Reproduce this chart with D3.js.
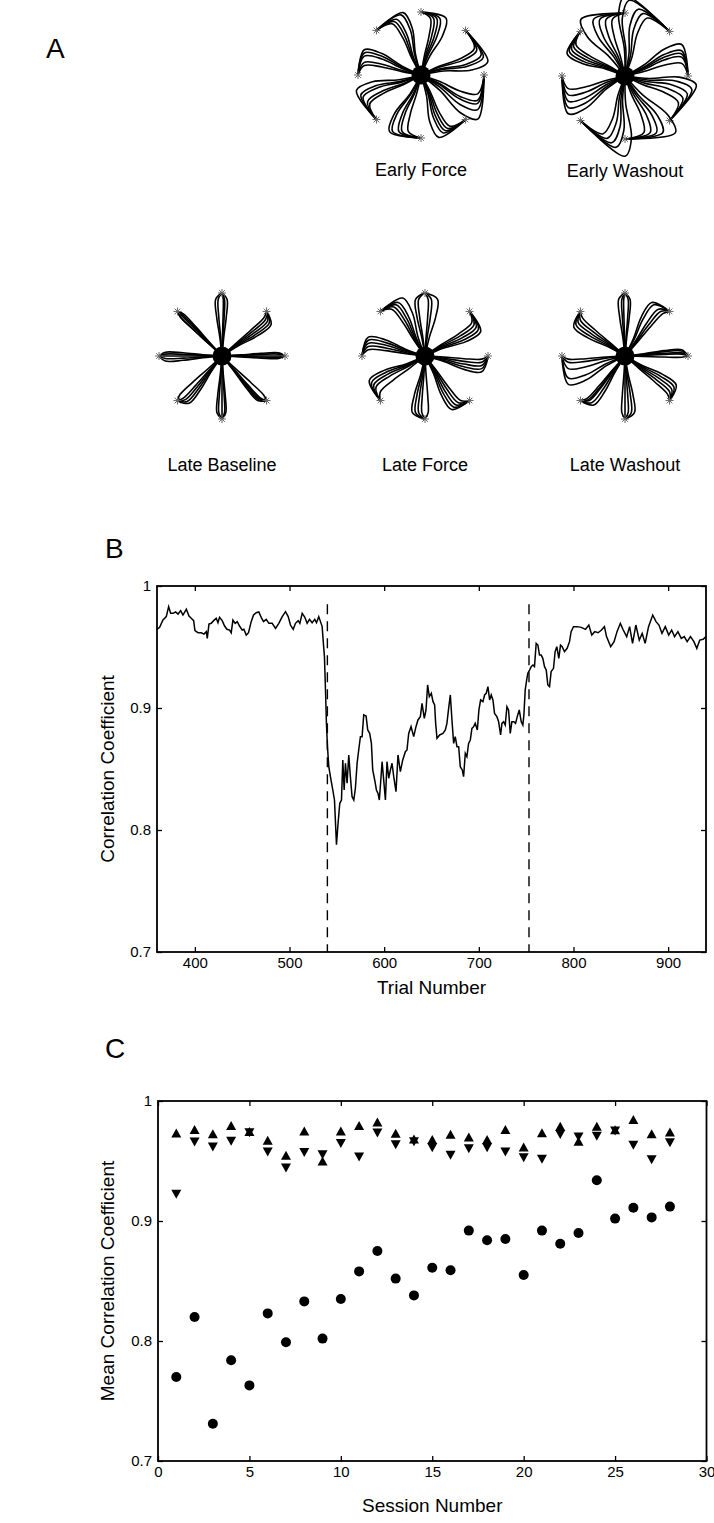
<!DOCTYPE html>
<html>
<head>
<meta charset="utf-8">
<script src="https://cdn.jsdelivr.net/npm/d3@7"></script>
<style>
body { margin:0; background:#fff; }
text { font-family:"Liberation Sans", Arial, Helvetica, sans-serif; fill:#000; }
</style>
</head>
<body>
<svg id="fig" width="714" height="1523"></svg>
<script>

// ---------- panel A : hand paths, lateral deviation of each trace (fraction of target distance)
// directions: up, up-right, right, down-right, down, down-left, left, up-left
var targetAngles = [90, 45, 0, -45, -90, -135, 180, 135];
var earlyForceDev = [[0.15,0.25,0.3,0.4,0.2],[0.35,0.5,0.45,0.6,0.3],[0.4,0.55,0.3,0.7,0.45],[0.3,0.4,0.5,0.25,0.35],
                     [0.35,0.45,0.2,0.3,0.5],[0.3,0.45,0.25,0.4,0.55],[0.2,0.3,0.4,0.15,0.35],[0.25,0.35,0.45,0.3,0.5]];
var earlyWashoutDev = [[-0.3,-0.5,-0.7,-0.4,-0.2],[-0.5,-0.8,-0.6,-0.4,-0.9],[-0.3,-0.4,-0.2,-0.5,-0.35],[-0.4,-0.6,-0.3,-0.7,-0.5],
                       [-0.4,-0.6,-0.8,-0.3,-0.5],[-0.5,-0.7,-0.4,-0.9,-0.6],[-0.3,-0.5,-0.6,-0.4,-0.2],[-0.2,-0.3,-0.4,-0.25,-0.35]];
var lateBaselineDev = [[0.04,-0.06,0.08,-0.1,0.02],[0.08,0.16,0.12,0.2,0.04],[0.02,-0.03,0.04,0,-0.05],[0.04,0.08,-0.03,0.06,0.1],
                       [-0.04,0.05,0.08,-0.06,0],[-0.08,-0.16,0.04,-0.12,-0.04],[0.03,-0.04,0.06,-0.08,0],[0.02,-0.03,0.04,0,-0.03]];
var lateForceDev = [[0.1,-0.15,0.2,0.05,-0.1],[0.25,0.35,0.2,0.3,0.15],[0.15,0.25,0.1,0.2,0.05],[0.2,0.3,0.15,0.25,0.1],
                    [0.1,0.2,-0.05,0.15,0.05],[0.2,0.35,0.25,0.1,0.3],[0.15,0.25,0.1,0.3,0.2],[0.2,0.3,0.4,0.15,0.25]];
var lateWashoutDev = [[-0.05,0.05,-0.1,0.08,-0.02],[-0.15,-0.25,-0.1,-0.3,-0.05],[-0.03,-0.08,0.02,-0.05,-0.1],[-0.1,-0.2,-0.15,-0.25,-0.05],
                      [-0.05,-0.1,0.05,-0.15,0],[-0.1,-0.15,-0.05,-0.2,-0.08],[-0.2,-0.35,-0.1,-0.45,-0.05],[-0.1,-0.15,-0.05,-0.2,-0.25]];

// ---------- panel B : correlation coefficient by trial
var trialNum = [360,362.8,366.3,369.8,372.3,374.4,376.9,379.7,382.2,385,387.4,391,393.8,396.2,398.7,400.1,403.3,406.8,409.6,412.1,
  413.1,414.9,417.3,419.8,422.6,424.4,426.1,428.9,431.4,433.9,436.7,438.4,440.2,442.6,444.8,447.2,450,451.8,454.3,456.7,
  459.5,462,464.8,467.6,470.1,472.5,475.4,478.2,481.7,485.2,488.7,492.3,495.8,498.6,501,503.9,506.3,509.1,510.9,513.4,
  516.2,518.6,521.1,523.9,526.7,528.5,530.9,532.7,534.5,535.5,536.9,538,539,540.1,541.5,543.2,545.7,547.5,549.6,551.3,
  553.1,554.9,556.3,557.7,559.1,560.8,562.6,564.3,566.1,567.9,569.6,571.4,573.1,574.9,576.7,578.4,580.9,582.6,584.7,586.5,
  587.9,590,591.8,593.5,594.9,596.7,597.8,599.5,601.3,603,604.8,606.6,608.3,610.1,612.5,614.6,617.1,619.6,622.4,624.1,
  625.9,628.4,631.2,633.6,635.7,638.2,640,642.4,644.2,645.9,647.7,649.8,651.6,653.3,654.4,655.8,658.6,662.1,664.6,666.3,
  668.1,669.9,671.6,673.4,675.1,676.9,678.7,680.4,682.5,683.9,685.7,687.4,689.2,691,692.7,694.5,696.2,698.4,700.1,701.9,
  704.3,706.1,707.8,709.6,711.4,713.1,714.9,716.6,719.1,720.9,723,724.4,726.2,727.9,729.7,731.4,733.2,734.9,737,738.8,
  740.6,742.7,744.8,746.5,747.6,749,750.8,751.8,753.6,755.3,757.1,758.8,760.6,762.4,764.1,765.9,767.6,769.4,771.2,772.9,
  774.7,776.4,778.9,780.6,782.4,784.5,786.3,788,790.5,793.3,795.8,797.5,800,803.8,808.2,812.7,816.2,819.3,822.5,826,
  829.6,832.7,834.9,839.3,842.9,846,849.5,852.6,856.2,859.3,862.4,865.9,869.5,872.6,875.7,879.3,883.7,887.2,890.3,893.5,
  897,900.6,903.7,906.8,910.3,913.9,917,920.1,923.6,927.2,930.3,933.4,937,940];
var trialCorr = [0.9645,0.9661,0.9721,0.9749,0.9831,0.9776,0.9776,0.9787,0.977,0.9798,0.9762,0.9809,0.9754,0.9735,0.9716,0.9634,0.9617,0.9617,0.9606,0.9626,
  0.9571,0.9688,0.9694,0.9716,0.9735,0.9699,0.9743,0.9716,0.9672,0.9645,0.9639,0.9617,0.9721,0.9694,0.9708,0.9672,0.9639,0.9645,0.9598,0.9617,
  0.9708,0.9762,0.9781,0.9787,0.9743,0.9708,0.9727,0.9694,0.9694,0.9653,0.9694,0.9749,0.979,0.9749,0.968,0.9645,0.9694,0.9716,0.9694,0.9776,
  0.9743,0.9694,0.9727,0.9699,0.9727,0.9699,0.9749,0.9708,0.9667,0.9557,0.9421,0.9148,0.8874,0.8683,0.8519,0.8437,0.8328,0.8246,0.788,0.8055,
  0.8219,0.8246,0.8574,0.8328,0.8547,0.8383,0.8615,0.8437,0.8273,0.8246,0.8342,0.8547,0.8656,0.8765,0.8765,0.8943,0.8934,0.882,0.8792,0.871,
  0.8492,0.841,0.8328,0.83,0.8246,0.8437,0.856,0.841,0.8246,0.856,0.8424,0.8492,0.8547,0.8437,0.8314,0.8615,0.8478,0.8574,0.8642,0.8656,
  0.8792,0.8847,0.8765,0.8847,0.8902,0.8929,0.9038,0.8915,0.8984,0.9189,0.9093,0.912,0.9052,0.9025,0.8874,0.8751,0.8779,0.8792,0.882,0.8874,
  0.8997,0.9107,0.8902,0.871,0.8765,0.8683,0.8683,0.8519,0.8492,0.8437,0.8628,0.8601,0.871,0.8738,0.8833,0.8847,0.8874,0.882,0.8984,0.9066,
  0.9052,0.9107,0.912,0.9175,0.9066,0.9107,0.9066,0.8956,0.8929,0.8888,0.8779,0.8874,0.8888,0.8861,0.9011,0.8984,0.8792,0.8888,0.8888,0.8874,
  0.8929,0.8984,0.8888,0.8861,0.8943,0.9148,0.9243,0.9284,0.9311,0.9339,0.9352,0.9339,0.953,0.9516,0.9434,0.9434,0.9407,0.9339,0.9311,0.9189,
  0.9175,0.9298,0.9325,0.9462,0.9503,0.9407,0.9516,0.9503,0.9462,0.9489,0.9544,0.9626,0.9667,0.9667,0.9661,0.9645,0.968,0.9598,0.9626,0.9617,
  0.9639,0.9667,0.9585,0.9503,0.9544,0.9626,0.9694,0.9639,0.9585,0.9667,0.953,0.968,0.9557,0.9612,0.953,0.9667,0.9762,0.9708,0.968,0.9612,
  0.9667,0.9598,0.9639,0.9585,0.9626,0.9571,0.9585,0.9544,0.9585,0.9544,0.9489,0.9557,0.9563,0.9585];
var fieldEdges = [540, 753];
var trialTicks = [400, 500, 600, 700, 800, 900];
var corrTicks = [0.7, 0.8, 0.9, 1];

// ---------- panel C : mean correlation per session
var sessionNum = [1,2,3,4,5,6,7,8,9,10,11,12,13,14,15,16,17,18,19,20,21,22,23,24,25,26,27,28];
var forceMean = [0.770,0.820,0.731,0.784,0.763,0.823,0.799,0.833,0.802,0.835,0.858,0.875,0.852,0.838,0.861,0.859,0.892,0.884,0.885,0.855,
  0.892,0.881,0.890,0.934,0.902,0.911,0.903,0.912];
var baselineMean = [0.9733,0.9762,0.9728,0.9795,0.9745,0.9672,0.9548,0.975,0.950,0.975,0.9795,0.9825,0.9731,0.9683,0.968,0.9722,0.970,0.968,0.9762,0.9617,
  0.9736,0.979,0.9665,0.9789,0.976,0.9845,0.9728,0.9742];
var washoutMean = [0.9222,0.9658,0.9617,0.9664,0.9735,0.9575,0.9442,0.957,0.9553,0.9645,0.9533,0.9733,0.9636,0.966,0.961,0.9548,0.9603,0.961,0.9575,0.9528,
  0.9514,0.972,0.970,0.9706,0.975,0.9631,0.9511,0.9653];
var sessionTicks = [0, 5, 10, 15, 20, 25, 30];

var svg = d3.select("#fig");

// ================= panel A =================
var armLen = 63;
var starPanels = [
  {label:"Early Force",   cx:421, cy:75,  dev:earlyForceDev},
  {label:"Early Washout", cx:625, cy:76,  dev:earlyWashoutDev},
  {label:"Late Baseline", cx:222, cy:356, dev:lateBaselineDev},
  {label:"Late Force",    cx:425, cy:356, dev:lateForceDev},
  {label:"Late Washout",  cx:625, cy:356, dev:lateWashoutDev}
];
var along = [0, 0.3, 0.62, 0.9, 1.0];
var lateral = [0, 0.35, 0.85, 1.0, 0.05];

function drawStar(p) {
  var sx = d3.scaleLinear().domain([-1, 1]).range([p.cx - armLen, p.cx + armLen]);
  var sy = d3.scaleLinear().domain([-1, 1]).range([p.cy + armLen, p.cy - armLen]);
  var path = d3.line().x(function(d){ return sx(d[0]); }).y(function(d){ return sy(d[1]); })
    .curve(d3.curveCatmullRom.alpha(0.5));
  var g = svg.append("g");
  targetAngles.forEach(function(ang, i) {
    var a = ang * Math.PI / 180, dx = Math.cos(a), dy = Math.sin(a);
    // clockwise side on screen
    var px = dy, py = -dx;
    p.dev[i].forEach(function(dv) {
      var pts = along.map(function(f, k) {
        return [f*dx + lateral[k]*dv*px, f*dy + lateral[k]*dv*py];
      });
      g.append("path").attr("d", path(pts))
        .attr("fill", "none").attr("stroke", "#000").attr("stroke-width", 1.6);
    });
    // target asterisk
    var tx = sx(dx), ty = sy(dy);
    for (var k = 0; k < 4; k++) {
      var b = k * Math.PI / 4;
      g.append("line")
        .attr("x1", tx - 4*Math.cos(b)).attr("y1", ty - 4*Math.sin(b))
        .attr("x2", tx + 4*Math.cos(b)).attr("y2", ty + 4*Math.sin(b))
        .attr("stroke", "#666").attr("stroke-width", 1);
    }
  });
  g.append("circle").attr("cx", sx(0)).attr("cy", sy(0)).attr("r", 9.5).attr("fill", "#000");
  svg.append("text").attr("x", p.cx).attr("y", p.cy + (p.cy < 200 ? 101 : 115))
    .attr("text-anchor", "middle").attr("font-size", 18).text(p.label);
}
starPanels.forEach(drawStar);

svg.append("text").attr("x", 46).attr("y", 58).attr("font-size", 28).text("A");

// ================= shared frame helper =================
function frame(x, y, left, top, w, h, xt, yt) {
  var g = svg.append("g");
  g.append("g").attr("transform", "translate(0," + (top + h) + ")")
    .call(d3.axisBottom(x).tickValues(xt).tickSize(-5).tickPadding(5).tickFormat(d3.format("d")));
  g.append("g").attr("transform", "translate(0," + top + ")")
    .call(d3.axisTop(x).tickValues(xt).tickSize(-5).tickFormat(""));
  g.append("g").attr("transform", "translate(" + left + ",0)")
    .call(d3.axisLeft(y).tickValues(yt).tickSize(-5).tickPadding(6).tickFormat(d3.format("~g")));
  g.append("g").attr("transform", "translate(" + (left + w) + ",0)")
    .call(d3.axisRight(y).tickValues(yt).tickSize(-5).tickFormat(""));
  g.selectAll(".domain").remove();
  g.selectAll(".tick line").attr("stroke", "#000").attr("stroke-width", 1.3);
  g.selectAll(".tick text").attr("font-size", 15).attr("fill", "#000")
    .style("font-family", "'Liberation Sans', Arial, sans-serif");
  g.append("rect").attr("x", left).attr("y", top).attr("width", w).attr("height", h)
    .attr("fill", "none").attr("stroke", "#000").attr("stroke-width", 1.8);
}

// ================= panel B =================
var bL = 157, bT = 586, bW = 549, bH = 366;
var xB = d3.scaleLinear().domain([360, 940]).range([bL, bL + bW]);
var yB = d3.scaleLinear().domain([0.7, 1]).range([bT + bH, bT]);

fieldEdges.forEach(function(t) {
  svg.append("line").attr("x1", xB(t)).attr("x2", xB(t)).attr("y1", yB(0.985)).attr("y2", yB(0.7))
    .attr("stroke", "#000").attr("stroke-width", 1.4).attr("stroke-dasharray", "10,7");
});
svg.append("path")
  .datum(d3.zip(trialNum, trialCorr))
  .attr("d", d3.line().x(function(d){ return xB(d[0]); }).y(function(d){ return yB(d[1]); }))
  .attr("fill", "none").attr("stroke", "#000").attr("stroke-width", 1.5);
frame(xB, yB, bL, bT, bW, bH, trialTicks, corrTicks);

svg.append("text").attr("x", bL + bW/2).attr("y", 994).attr("text-anchor", "middle")
  .attr("font-size", 19).text("Trial Number");
svg.append("text").attr("transform", "translate(114," + (bT + bH/2) + ") rotate(-90)")
  .attr("text-anchor", "middle").attr("font-size", 19).text("Correlation Coefficient");
svg.append("text").attr("x", 105).attr("y", 558).attr("font-size", 28).text("B");

// ================= panel C =================
var cL = 158, cT = 1101, cW = 548.5, cH = 360;
var xC = d3.scaleLinear().domain([0, 30]).range([cL, cL + cW]);
var yC = d3.scaleLinear().domain([0.7, 1]).range([cT + cH, cT]);
var triW = 10, triH = 9;

var gC = svg.append("g");
gC.selectAll("circle.force").data(d3.zip(sessionNum, forceMean)).enter()
  .append("circle").attr("class", "force")
  .attr("cx", function(d){ return xC(d[0]); }).attr("cy", function(d){ return yC(d[1]); })
  .attr("r", 5).attr("fill", "#000");
gC.selectAll("path.up").data(d3.zip(sessionNum, baselineMean)).enter()
  .append("path").attr("class", "up")
  .attr("d", function(d) {
    var x = xC(d[0]), y = yC(d[1]);
    return "M" + x + "," + (y - triH/2) + "L" + (x + triW/2) + "," + (y + triH/2) + "L" + (x - triW/2) + "," + (y + triH/2) + "Z";
  })
  .attr("fill", "#000");
gC.selectAll("path.down").data(d3.zip(sessionNum, washoutMean)).enter()
  .append("path").attr("class", "down")
  .attr("d", function(d) {
    var x = xC(d[0]), y = yC(d[1]);
    return "M" + x + "," + (y + triH/2) + "L" + (x + triW/2) + "," + (y - triH/2) + "L" + (x - triW/2) + "," + (y - triH/2) + "Z";
  })
  .attr("fill", "#000");
frame(xC, yC, cL, cT, cW, cH, sessionTicks, corrTicks);

svg.append("text").attr("x", cL + cW/2).attr("y", 1512).attr("text-anchor", "middle")
  .attr("font-size", 19).text("Session Number");
svg.append("text").attr("transform", "translate(114," + (cT + cH/2) + ") rotate(-90)")
  .attr("text-anchor", "middle").attr("font-size", 19).text("Mean Correlation Coefficient");
svg.append("text").attr("x", 105).attr("y", 1058).attr("font-size", 28).text("C");

</script>
</body>
</html>
